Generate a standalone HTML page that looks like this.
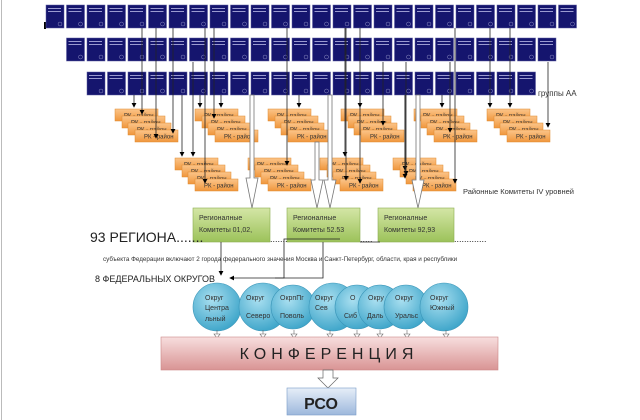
<!DOCTYPE html>
<html><head><meta charset="utf-8"><style>
body{margin:0;background:#fff;width:640px;height:420px;overflow:hidden;font-family:"Liberation Sans",sans-serif}
svg{display:block}
</style></head><body>
<svg width="640" height="420" viewBox="0 0 640 420" xmlns="http://www.w3.org/2000/svg" font-family="Liberation Sans, sans-serif">
<defs>
<linearGradient id="og" x1="0" y1="0" x2="0" y2="1"><stop offset="0" stop-color="#fbc58a"/><stop offset="1" stop-color="#f0963c"/></linearGradient>
<linearGradient id="gg" x1="0" y1="0" x2="0" y2="1"><stop offset="0" stop-color="#d4e6a6"/><stop offset="1" stop-color="#9cc25a"/></linearGradient>
<linearGradient id="pg" x1="0" y1="0" x2="0" y2="1"><stop offset="0" stop-color="#f7dede"/><stop offset="1" stop-color="#d99494"/></linearGradient>
<linearGradient id="bg" x1="0" y1="0" x2="0" y2="1"><stop offset="0" stop-color="#e6eef8"/><stop offset="1" stop-color="#9db8dc"/></linearGradient>
<radialGradient id="cg" cx="0.4" cy="0.35" r="0.7"><stop offset="0" stop-color="#a9dff0"/><stop offset="1" stop-color="#3aa3c8"/></radialGradient>
<g id="b"><rect width="18" height="23" fill="#15156e" stroke="#5a5aa0" stroke-width="0.5"/><rect x="2" y="3" width="13" height="1" fill="#9a9ad0"/><rect x="2" y="6" width="13" height="1" fill="#9a9ad0"/><circle cx="14" cy="19" r="2" fill="none" stroke="#8a8ac0" stroke-width="0.5"/></g>
<g id="o"><rect width="43" height="12" fill="url(#og)" stroke="#e08a30" stroke-width="0.5"/><text x="9" y="8.5" font-size="6" fill="#333">РК - район</text></g>
<g id="s"><use href="#o" x="0" y="0"/><use href="#o" x="7" y="7"/><use href="#o" x="13" y="14"/><use href="#o" x="20" y="21"/></g>
<marker id="a" markerWidth="6" markerHeight="6" refX="5" refY="3" orient="auto"><path d="M0,0 L6,3 L0,6z" fill="#000"/></marker>
<g id="h"><path d="M-2,0 V-85 H2 V0 H5 L0,30 L-5,0z" fill="#fff" stroke="#777" stroke-width="0.8"/></g>
</defs>
<line x1="1.5" y1="0" x2="1.5" y2="420" stroke="#bbb"/>
<rect x="44" y="22" width="2" height="7" fill="#000"/>
<g id="r1"></g>
<script>
</script>
<!-- blue rows -->
<g>
<use href="#b" x="46" y="5"/><use href="#b" x="66.5" y="5"/><use href="#b" x="87" y="5"/><use href="#b" x="107.5" y="5"/><use href="#b" x="128" y="5"/><use href="#b" x="148.5" y="5"/><use href="#b" x="169" y="5"/><use href="#b" x="189.5" y="5"/><use href="#b" x="210" y="5"/><use href="#b" x="230.5" y="5"/><use href="#b" x="251" y="5"/><use href="#b" x="271.5" y="5"/><use href="#b" x="292" y="5"/><use href="#b" x="312.5" y="5"/><use href="#b" x="333" y="5"/><use href="#b" x="353.5" y="5"/><use href="#b" x="374" y="5"/><use href="#b" x="394.5" y="5"/><use href="#b" x="415" y="5"/><use href="#b" x="435.5" y="5"/><use href="#b" x="456" y="5"/><use href="#b" x="476.5" y="5"/><use href="#b" x="497" y="5"/><use href="#b" x="517.5" y="5"/><use href="#b" x="538" y="5"/><use href="#b" x="558.5" y="5"/>
<use href="#b" x="66.5" y="38"/><use href="#b" x="87" y="38"/><use href="#b" x="107.5" y="38"/><use href="#b" x="128" y="38"/><use href="#b" x="148.5" y="38"/><use href="#b" x="169" y="38"/><use href="#b" x="189.5" y="38"/><use href="#b" x="210" y="38"/><use href="#b" x="230.5" y="38"/><use href="#b" x="251" y="38"/><use href="#b" x="271.5" y="38"/><use href="#b" x="292" y="38"/><use href="#b" x="312.5" y="38"/><use href="#b" x="333" y="38"/><use href="#b" x="353.5" y="38"/><use href="#b" x="374" y="38"/><use href="#b" x="394.5" y="38"/><use href="#b" x="415" y="38"/><use href="#b" x="435.5" y="38"/><use href="#b" x="456" y="38"/><use href="#b" x="476.5" y="38"/><use href="#b" x="497" y="38"/><use href="#b" x="517.5" y="38"/><use href="#b" x="538" y="38"/>
<use href="#b" x="87" y="72"/><use href="#b" x="107.5" y="72"/><use href="#b" x="128" y="72"/><use href="#b" x="148.5" y="72"/><use href="#b" x="169" y="72"/><use href="#b" x="189.5" y="72"/><use href="#b" x="210" y="72"/><use href="#b" x="230.5" y="72"/><use href="#b" x="251" y="72"/><use href="#b" x="271.5" y="72"/><use href="#b" x="292" y="72"/><use href="#b" x="312.5" y="72"/><use href="#b" x="333" y="72"/><use href="#b" x="353.5" y="72"/><use href="#b" x="374" y="72"/><use href="#b" x="394.5" y="72"/><use href="#b" x="415" y="72"/><use href="#b" x="435.5" y="72"/><use href="#b" x="456" y="72"/><use href="#b" x="476.5" y="72"/><use href="#b" x="497" y="72"/><use href="#b" x="517.5" y="72"/>
</g>
<text x="538" y="96" font-size="8" fill="#333">группы АА</text>
<!-- orange stacks -->
<use href="#s" x="115" y="109"/><use href="#s" x="195" y="109"/><use href="#s" x="268" y="109"/><use href="#s" x="341" y="109"/><use href="#s" x="414" y="109"/><use href="#s" x="487" y="109"/>
<use href="#s" x="175" y="158"/><use href="#s" x="248" y="158"/><use href="#s" x="320" y="158"/><use href="#s" x="393" y="158"/>
<text x="463" y="194" font-size="7.5" fill="#333">Районные Комитеты IV уровней</text>
<!-- connectors -->
<g stroke="#222" stroke-width="0.8" fill="none" marker-end="url(#a)">
<path d="M142,28V114"/><path d="M156,28V138"/><path d="M173,28V133"/><path d="M134,95V107"/>
<path d="M182,95V156"/><path d="M193,62V156"/><path d="M205,28V183"/><path d="M200,95V107"/><path d="M221,95V107"/><path d="M214,28V118"/>
<path d="M287,28V165"/><path d="M299,95V107"/><path d="M345,28V156"/><path d="M346,28V180"/><path d="M360,28V183"/><path d="M360,95V107"/>
<path d="M383,62V125"/><path d="M405,95V170"/><path d="M406,62V175"/><path d="M442,95V107"/><path d="M450,62V132"/><path d="M455,28V183"/>
<path d="M490,28V107"/><path d="M510,28V107"/><path d="M548,62V127"/><path d="M405,95V178"/>
</g>
<!-- hollow arrows -->
<g fill="#fff" stroke="#777" stroke-width="0.8">
<path d="M250,95V178H246L252,208L258,178H254V95z"/>
<path d="M315,142V180H311L317,208L323,180H319V142z"/>
<path d="M328,95V180H324L330,208L336,180H332V95z"/>
<path d="M416,95V180H412L418,208L424,180H420V95z"/>
</g>
<!-- green boxes -->
<rect x="193" y="208" width="77" height="34" fill="url(#gg)" stroke="#8aae50" stroke-width="0.6"/>
<rect x="287" y="208" width="73" height="34" fill="url(#gg)" stroke="#8aae50" stroke-width="0.6"/>
<rect x="378" y="208" width="76" height="34" fill="url(#gg)" stroke="#8aae50" stroke-width="0.6"/>
<g font-size="7" fill="#333">
<text x="199" y="220">Регионалные</text><text x="199" y="232">Комитеты 01,02,</text>
<text x="293" y="220">Регионалные</text><text x="293" y="232">Комитеты 52.53</text>
<text x="384" y="220">Регионалные</text><text x="384" y="232">Комитеты 92,93</text>
</g>
<text x="90" y="242" font-size="14" fill="#222">93 РЕГИОНА.......</text>
<text x="270" y="242" font-size="9" fill="#222">.......</text>
<text x="360" y="242" font-size="9" fill="#222">.....</text>
<text x="454" y="242" font-size="9" fill="#222">.............</text>
<text x="103" y="261" font-size="6.3" fill="#333">субъекта Федерации включают 2 города федерального значения Москва и Санкт-Петербург, области, края и республики</text>
<text x="95" y="282" font-size="9" fill="#222">8 ФЕДЕРАЛЬНЫХ ОКРУГОВ</text>
<g stroke="#222" stroke-width="0.8" fill="none">
<path d="M221,242V275" marker-end="url(#a)"/>
<path d="M323,239H284V278H230" marker-end="url(#a)"/>
<path d="M323,239H340"/>
<path d="M323,242V278H275"/>
<path d="M380,242H360"/>
</g>
<!-- circles -->
<g stroke="#3a95b8" stroke-width="0.6" fill="url(#cg)">
<circle cx="217" cy="307" r="24"/><circle cx="263" cy="307" r="24"/><circle cx="293" cy="307" r="22"/><circle cx="333" cy="307" r="24"/><circle cx="357" cy="307" r="22"/><circle cx="380" cy="307" r="22"/><circle cx="406" cy="307" r="22"/><circle cx="444" cy="307" r="24"/>
</g>
<g font-size="7" fill="#333">
<text x="205" y="300">Округ</text><text x="205" y="310">Центра</text><text x="205" y="321">льный</text>
<text x="246" y="300">Округ</text><text x="246" y="318">Северо</text>
<text x="280" y="300">ОкрпПг</text><text x="280" y="318">Поволь</text>
<text x="315" y="300">Округ</text><text x="315" y="310">Сев</text>
<text x="350" y="300">О</text><text x="344" y="318">Сиб</text>
<text x="368" y="300">Окру</text><text x="367" y="318">Даль</text>
<text x="395" y="300">Округ</text><text x="395" y="318">Уральс</text>
<text x="430" y="300">Округ</text><text x="430" y="310">Южный</text>
</g>
<g fill="#fff" stroke="#666" stroke-width="0.6">
<path d="M217,330v4h-3l3,4l3,-4h-3z"/><path d="M263,330v4h-3l3,4l3,-4h-3z"/><path d="M294,330v4h-3l3,4l3,-4h-3z"/><path d="M330,330v4h-3l3,4l3,-4h-3z"/><path d="M357,330v4h-3l3,4l3,-4h-3z"/><path d="M380,330v4h-3l3,4l3,-4h-3z"/><path d="M407,330v4h-3l3,4l3,-4h-3z"/><path d="M446,330v4h-3l3,4l3,-4h-3z"/>
</g>
<rect x="161" y="337" width="337" height="33" fill="url(#pg)" stroke="#c88" stroke-width="0.6"/>
<text x="329" y="359" font-size="16" fill="#222" text-anchor="middle" letter-spacing="5">КОНФЕРЕНЦИЯ</text>
<path d="M323,370V378H318L328,388L338,378H333V370z" fill="#fff" stroke="#666" stroke-width="0.7"/>
<rect x="287" y="388" width="69" height="27" fill="url(#bg)" stroke="#7a9cc8" stroke-width="0.6"/>
<text x="321" y="409" font-size="16" font-weight="bold" fill="#222" text-anchor="middle">РСО</text>
</svg>
</body></html>
